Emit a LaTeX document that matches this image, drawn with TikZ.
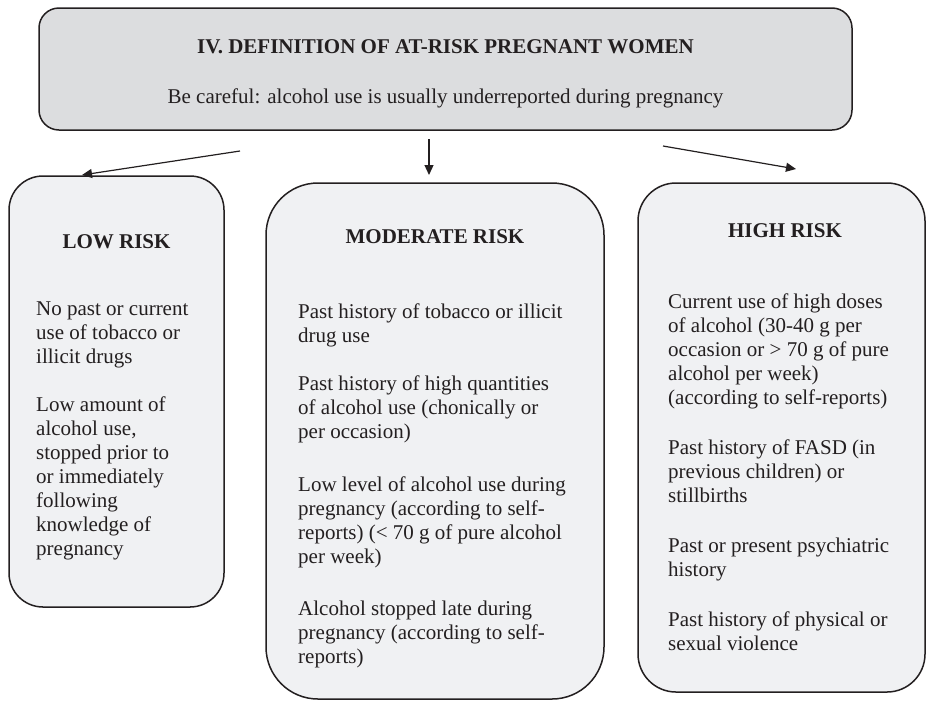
\documentclass[tikz,border=0pt]{standalone}
\usepackage{fontspec}
\setmainfont{Liberation Serif}
\usetikzlibrary{arrows.meta}
\definecolor{ink}{HTML}{231F20}
\definecolor{headfill}{HTML}{DCDDDF}
\definecolor{riskfill}{HTML}{F0F1F3}
\begin{document}
\begin{tikzpicture}[x=1pt,y=-1pt,
  txt/.style={font=\fontsize{21}{24}\selectfont, text=ink, inner sep=0pt},
  hdr/.style={font=\fontsize{21}{24}\selectfont\bfseries, text=ink, inner sep=0pt},
  body/.style={txt, align=left, anchor=north west},
  panel/.style={draw=ink, line width=1.5pt, inner sep=0pt},
  arr/.style={draw=ink, line width=1.2pt, -{Triangle[length=10pt,width=9pt]}}
]
\useasboundingbox (0,0) rectangle (928,702);

% header box
\node[panel, fill=headfill, rounded corners=20pt, minimum width=813pt, minimum height=122pt] (head) at (445.5,69) {};
\node[hdr, anchor=base] (headtitle) at (445.5,53) {IV. DEFINITION OF AT-RISK PREGNANT WOMEN};
\node[txt, anchor=base] (headnote) at (445.5,103) {Be careful: alcohol use is usually underreported during pregnancy};

% risk boxes
\node[panel, fill=riskfill, rounded corners=34pt, minimum width=215pt, minimum height=431pt] (low) at (116.5,391.5) {};
\node[panel, fill=riskfill, rounded corners=52pt, minimum width=338pt, minimum height=516pt] (mod) at (435,441) {};
\node[panel, fill=riskfill, rounded corners=38pt, minimum width=287pt, minimum height=509pt] (high) at (781.5,437.5) {};

% titles
\node[hdr, anchor=base] (lowtitle) at (116.5,248) {LOW RISK};
\node[hdr, anchor=base] (modtitle) at (435,243) {MODERATE RISK};
\node[hdr, anchor=base] (hightitle) at (785,237) {HIGH RISK};

% body texts
\node[body] (lowtext) at (36,298.2) {\strut No past or current\\ use of tobacco or\\ illicit drugs\\[24pt]
Low amount of\\ alcohol use,\\ stopped prior to\\ or immediately\\ following\\ knowledge of\\ pregnancy};

\node[body] (modtext) at (298,301.2) {\strut Past history of tobacco or illicit\\ drug use\\[24pt]
Past history of high quantities\\ of alcohol use (chonically or\\ per occasion)\\[29pt]
Low level of alcohol use during\\ pregnancy (according to self-\\ reports) (< 70 g of pure alcohol\\ per week)\\[28pt]
Alcohol stopped late during\\ pregnancy (according to self-\\ reports)};

\node[body] (hightext) at (668,291.2) {\strut Current use of high doses\\ of alcohol (30-40 g per\\ occasion or > 70 g of pure\\ alcohol per week)\\ (according to self-reports)\\[26pt]
Past history of FASD (in\\ previous children) or\\ stillbirths\\[26pt]
Past or present psychiatric\\ history\\[26pt]
Past history of physical or\\ sexual violence};

% connectors
\coordinate (srcL) at (240,151);
\coordinate (srcM) at (429,139);
\coordinate (srcR) at (663,146);
\coordinate (dstL) at (82,175);
\coordinate (dstM) at (429,175);
\coordinate (dstR) at (796,169);
\draw[arr] (srcL) -- (dstL);
\draw[arr] (srcM) -- (dstM);
\draw[arr] (srcR) -- (dstR);
\end{tikzpicture}
\end{document}
